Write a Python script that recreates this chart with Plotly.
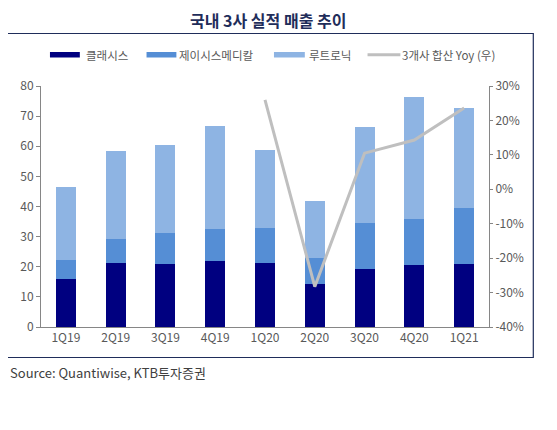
import plotly.graph_objects as go

quarters = ["1Q19", "2Q19", "3Q19", "4Q19", "1Q20", "2Q20", "3Q20", "4Q20", "1Q21"]
classys = [15.8, 21.3, 20.8, 21.9, 21.1, 14.2, 19.3, 20.6, 21.0]
jeisys = [6.4, 7.9, 10.4, 10.6, 11.9, 8.7, 15.2, 15.2, 18.6]
lutronic = [24.4, 29.2, 29.1, 34.2, 25.8, 18.9, 32.0, 40.4, 33.1]
yoy = [None, None, None, None, 26.0, -28.3, 10.5, 14.3, 23.6]

left_ticks = [0, 10, 20, 30, 40, 50, 60, 70, 80]
right_ticks = [-40, -30, -20, -10, 0, 10, 20, 30]
right_labels = [f"{v}%" for v in right_ticks]

names = ["클래시스", "제이시스메디칼", "루트로닉", "3개사 합산 Yoy (우)"]
colors = ["#000080", "#558ED5", "#8EB4E3", "#BFBFBF"]

kr_font = "'Noto Sans CJK KR', sans-serif"
tick_font = dict(family=kr_font, size=12, color="#595959")

# page body has an 8px default margin; compensate so the drawing lands where intended
OFF = 8
fig = go.Figure()
for vals, name, col in zip([classys, jeisys, lutronic], names[:3], colors[:3]):
    fig.add_trace(go.Bar(x=quarters, y=vals, name=name, marker=dict(color=col, line=dict(width=0)),
                         showlegend=False))
fig.add_trace(go.Scatter(x=quarters, y=yoy, name=names[3], mode="lines", yaxis="y2",
                         line=dict(color=colors[3], width=3), showlegend=False))

fig.update_layout(
    width=557, height=430,
    margin=dict(l=39 - OFF, r=557 - 489 + OFF, t=86 - OFF, b=430 - 327 + OFF),
    paper_bgcolor="white", plot_bgcolor="white",
    barmode="stack", bargap=0.6,
    xaxis=dict(showline=True, linecolor="#868686", linewidth=1, ticks="", tickfont=tick_font,
               showgrid=False),
    yaxis=dict(range=[0, 80], tickvals=left_ticks, showline=True, linecolor="#868686", linewidth=1,
               ticks="outside", ticklen=4, tickcolor="#868686", tickfont=tick_font, showgrid=False,
               zeroline=False),
    yaxis2=dict(range=[-40, 30], tickvals=right_ticks, ticktext=right_labels, overlaying="y", side="right",
                showline=True, linecolor="#868686", linewidth=1, ticks="outside", ticklen=3,
                tickcolor="#868686", tickfont=tick_font, showgrid=False, zeroline=False),
    showlegend=False,
)

W, H = 450.0, 241.0
def px(x):
    return (x - 39) / W
def py(y):
    return (327 - y) / H

shapes = [dict(type="rect", xref="paper", yref="paper", x0=px(3.5), x1=px(533.5), y0=py(357.5), y1=py(33.5),
               line=dict(color="#1F2D5A", width=1.2), fillcolor="rgba(0,0,0,0)", layer="below")]
annotations = []
leg = [(48, 78, 82), (145, 175, 176), (273, 304, 306), (367, 400, 400)]
for i, (x0, x1, tx) in enumerate(leg):
    if i < 3:
        shapes.append(dict(type="rect", xref="paper", yref="paper", x0=px(x0), x1=px(x1),
                           y0=py(57.5), y1=py(52), fillcolor=colors[i], line=dict(width=0)))
    else:
        shapes.append(dict(type="line", xref="paper", yref="paper", x0=px(x0), x1=px(x1),
                           y0=py(54.7), y1=py(54.7), line=dict(color=colors[i], width=3)))
    annotations.append(dict(text=names[i], xref="paper", yref="paper", x=px(tx), y=py(55),
                            xanchor="left", yanchor="middle", showarrow=False,
                            font=dict(family=kr_font, size=11.5, color="#595959")))

annotations.append(dict(text="<b>국내 3사 실적 매출 추이</b>", xref="paper", yref="paper", x=px(267), y=py(20),
                        xanchor="center", yanchor="middle", showarrow=False,
                        font=dict(family=kr_font, size=16, color="#1F2D5A")))
annotations.append(dict(text="Source: Quantiwise, KTB투자증권", xref="paper", yref="paper", x=px(6), y=py(372),
                        xanchor="left", yanchor="middle", showarrow=False,
                        font=dict(family=kr_font, size=13, color="#404040")))

fig.update_layout(shapes=shapes, annotations=annotations)
fig.write_html("out.html")
